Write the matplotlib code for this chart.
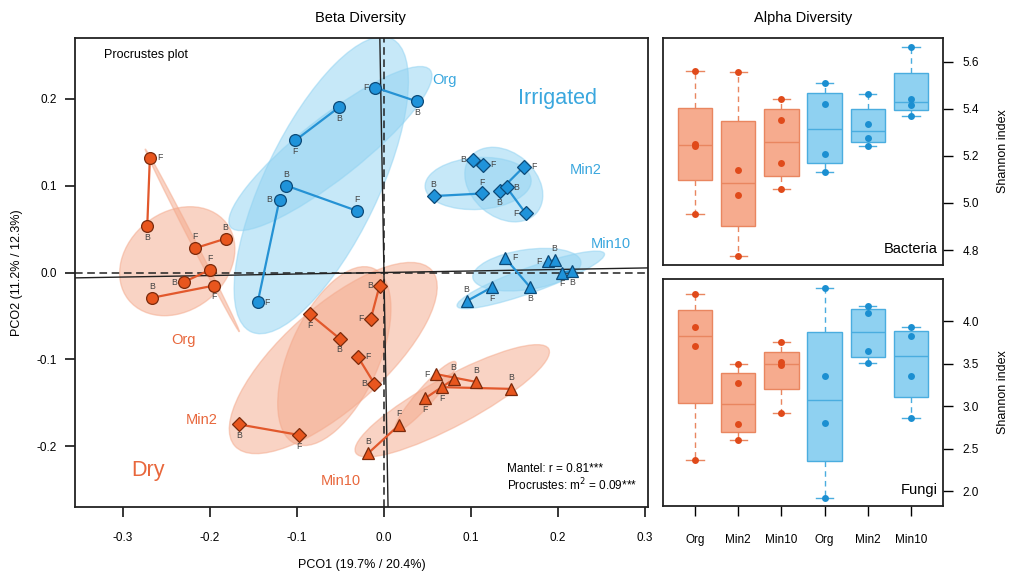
import numpy as np
import matplotlib
matplotlib.use("Agg")
import matplotlib.pyplot as plt
from matplotlib.patches import Ellipse

plt.rcParams['font.family'] = ['Liberation Sans', 'DejaVu Sans']

# ---- Procrustes data: fungal (F) and bacterial (B) ordination scores, paired by sample
dry_org_F = [(-0.269, 0.132), (-0.217, 0.028), (-0.200, 0.003), (-0.195, -0.015)]
dry_org_B = [(-0.272, 0.053), (-0.182, 0.039), (-0.230, -0.011), (-0.266, -0.029)]
dry_min2_F = [(-0.085, -0.048), (-0.015, -0.053), (-0.030, -0.097), (-0.098, -0.187)]
dry_min2_B = [(-0.051, -0.076), (-0.005, -0.015), (-0.011, -0.128), (-0.166, -0.175)]
dry_min10_F = [(0.060, -0.117), (0.067, -0.132), (0.047, -0.145), (0.017, -0.176)]
dry_min10_B = [(0.106, -0.126), (0.146, -0.134), (0.080, -0.123), (-0.018, -0.208)]
irr_org_F = [(-0.010, 0.213), (-0.102, 0.152), (-0.031, 0.071), (-0.145, -0.034)]
irr_org_B = [(0.038, 0.197), (-0.052, 0.190), (-0.112, 0.100), (-0.120, 0.084)]
irr_min2_F = [(0.114, 0.124), (0.113, 0.091), (0.161, 0.122), (0.163, 0.068)]
irr_min2_B = [(0.102, 0.130), (0.057, 0.088), (0.133, 0.094), (0.141, 0.098)]
irr_min10_F = [(0.139, 0.017), (0.124, -0.017), (0.189, 0.013), (0.205, 0.000)]
irr_min10_B = [(0.168, -0.017), (0.095, -0.033), (0.196, 0.014), (0.216, 0.002)]

# label side for each point (1 below, 2 left, 3 above, 4 right)
dry_org_Fpos, dry_org_Bpos = [4, 3, 3, 1], [1, 3, 2, 3]
dry_min2_Fpos, dry_min2_Bpos = [1, 2, 4, 1], [1, 2, 2, 1]
dry_min10_Fpos, dry_min10_Bpos = [2, 1, 1, 3], [3, 3, 3, 3]
irr_org_Fpos, irr_org_Bpos = [2, 1, 3, 4], [1, 1, 3, 2]
irr_min2_Fpos, irr_min2_Bpos = [4, 3, 4, 2], [2, 3, 1, 4]
irr_min10_Fpos, irr_min10_Bpos = [4, 1, 2, 1], [1, 3, 3, 1]

rot_angle = 1.0  # degrees, procrustes rotation of the target axes
mantel_r = 0.81
procrustes_m2 = 0.09

# ---- Alpha diversity (Shannon index), 4 replicates per treatment
treatments = ['Org', 'Min2', 'Min10', 'Org', 'Min2', 'Min10']
bacteria = [
    [5.559, 5.250, 5.240, 4.955],
    [5.555, 5.140, 5.032, 4.775],
    [5.443, 5.351, 5.168, 5.060],
    [5.510, 5.421, 5.206, 5.130],
    [5.461, 5.334, 5.277, 5.243],
    [5.660, 5.440, 5.417, 5.368],
]
fungi = [
    [4.318, 3.933, 3.710, 2.365],
    [3.500, 3.275, 2.784, 2.600],
    [3.749, 3.514, 3.482, 2.914],
    [4.384, 3.353, 2.796, 1.922],
    [4.176, 4.098, 3.647, 3.502],
    [3.933, 3.824, 3.353, 2.863],
]
water = ['Dry', 'Dry', 'Dry', 'Irrigated', 'Irrigated', 'Irrigated']

# colours
OR_LINE, OR_PT, OR_EDGE, OR_FILL, OR_TXT = '#e2582c', '#e8561e', '#7a2a0c', '#f4a88a', '#e8673c'
BL_LINE, BL_PT, BL_EDGE, BL_FILL, BL_TXT = '#2592d4', '#1f93da', '#0c4a78', '#8fd2f2', '#3aa7de'
BOX_OR_FILL, BOX_OR_EDGE, BOX_OR_PT = '#f6ab8e', '#e98660', '#e04a1a'
BOX_BL_FILL, BOX_BL_EDGE, BOX_BL_PT = '#8fd1f1', '#4aaddf', '#1b8fd1'


def cov_ellipse(ax, pts, fc, ec, k=1.6):
    pts = np.asarray(pts)
    c = pts.mean(axis=0)
    vals, vecs = np.linalg.eigh(np.cov(pts.T))
    ang = np.degrees(np.arctan2(vecs[1, 1], vecs[0, 1]))
    e = Ellipse(c, 2 * k * np.sqrt(vals[1]), 2 * k * np.sqrt(vals[0]), angle=ang,
                facecolor=fc, edgecolor=ec, alpha=0.5, lw=1.0, zorder=1)
    ax.add_patch(e)


def label_pt(ax, x, y, s, pos):
    off = {1: (0, -5), 2: (-5, 0), 3: (0, 5), 4: (5, 0)}[pos]
    ha = {1: 'center', 2: 'right', 3: 'center', 4: 'left'}[pos]
    va = {1: 'top', 2: 'center', 3: 'bottom', 4: 'center'}[pos]
    ax.annotate(s, (x, y), xytext=off, textcoords='offset points', ha=ha, va=va,
                fontsize=6.3, color='#444444', zorder=6)


fig = plt.figure(figsize=(10.11, 5.76), dpi=100)
ax = fig.add_axes([0.0742, 0.1198, 0.5668, 0.8142])

groups = [
    (dry_org_F, dry_org_B, dry_org_Fpos, dry_org_Bpos, 'o', 'dry'),
    (dry_min2_F, dry_min2_B, dry_min2_Fpos, dry_min2_Bpos, 'D', 'dry'),
    (dry_min10_F, dry_min10_B, dry_min10_Fpos, dry_min10_Bpos, '^', 'dry'),
    (irr_org_F, irr_org_B, irr_org_Fpos, irr_org_Bpos, 'o', 'irr'),
    (irr_min2_F, irr_min2_B, irr_min2_Fpos, irr_min2_Bpos, 'D', 'irr'),
    (irr_min10_F, irr_min10_B, irr_min10_Fpos, irr_min10_Bpos, '^', 'irr'),
]

for F, B, fpos, bpos, mk, w in groups:
    fill = OR_FILL if w == 'dry' else BL_FILL
    cov_ellipse(ax, F, fill, fill)
    cov_ellipse(ax, B, fill, fill)

ax.axhline(0, color='#222222', lw=1.1, ls=(0, (5, 3)), zorder=2)
ax.axvline(0, color='#222222', lw=1.1, ls=(0, (5, 3)), zorder=2)
t = np.radians(rot_angle)
ax.axline((0, 0), (np.cos(t), np.sin(t)), color='#222222', lw=1.0, zorder=2)
ax.axline((0, 0), (-np.sin(t), np.cos(t)), color='#222222', lw=1.0, zorder=2)

for F, B, fpos, bpos, mk, w in groups:
    lc = OR_LINE if w == 'dry' else BL_LINE
    pc = OR_PT if w == 'dry' else BL_PT
    ec = OR_EDGE if w == 'dry' else BL_EDGE
    ms = {'o': 8.5, 'D': 7, '^': 9}[mk]
    for (fx, fy), (bx, by), fp, bp in zip(F, B, fpos, bpos):
        ax.plot([fx, bx], [fy, by], color=lc, lw=1.6, zorder=3)
        ax.plot([fx, bx], [fy, by], ls='none', marker=mk, ms=ms, mfc=pc, mec=ec,
                mew=0.9, zorder=4)
        label_pt(ax, fx, fy, 'F', fp)
        label_pt(ax, bx, by, 'B', bp)

ax.set_xlim(-0.355, 0.3035)
ax.set_ylim(-0.27, 0.27)
ax.set_xticks([-0.3, -0.2, -0.1, 0.0, 0.1, 0.2, 0.3])
ax.set_yticks([-0.2, -0.1, 0.0, 0.1, 0.2])
ax.set_xticklabels(['-0.3', '-0.2', '-0.1', '0.0', '0.1', '0.2', '0.3'])
ax.set_yticklabels(['-0.2', '-0.1', '0.0', '0.1', '0.2'])
ax.tick_params(axis='x', direction='out', length=7, width=1.1, labelsize=8.5, pad=11)
ax.tick_params(axis='y', direction='out', length=7, width=1.1, labelsize=8.5, pad=6)
for s in ax.spines.values():
    s.set_linewidth(1.3)
    s.set_color('#222222')
ax.set_xlabel('PCO1 (19.7% / 20.4%)', fontsize=9, labelpad=11)
ax.set_ylabel('PCO2 (11.2% / 12.3%)', fontsize=9, labelpad=10)

ax.text(-0.322, 0.251, 'Procrustes plot', fontsize=9, va='center', ha='left')
ax.text(0.07, 0.222, 'Org', fontsize=10.5, color=BL_TXT, ha='center', va='center')
ax.text(0.199, 0.200, 'Irrigated', fontsize=15.5, color=BL_TXT, ha='center', va='center')
ax.text(0.232, 0.118, 'Min2', fontsize=10.5, color=BL_TXT, ha='center', va='center')
ax.text(0.261, 0.033, 'Min10', fontsize=10.5, color=BL_TXT, ha='center', va='center')
ax.text(-0.230, -0.078, 'Org', fontsize=10.5, color=OR_TXT, ha='center', va='center')
ax.text(-0.210, -0.170, 'Min2', fontsize=10.5, color=OR_TXT, ha='center', va='center')
ax.text(-0.271, -0.228, 'Dry', fontsize=15.5, color=OR_TXT, ha='center', va='center')
ax.text(-0.050, -0.240, 'Min10', fontsize=10.5, color=OR_TXT, ha='center', va='center')
ax.text(0.141, -0.226, 'Mantel: r = %.2f***' % mantel_r, fontsize=8.5, ha='left', va='center')
ax.text(0.141, -0.245, 'Procrustes: m$^2$ = %.2f***' % procrustes_m2, fontsize=8.5,
        ha='left', va='center')

fig.text(0.357, 0.968, 'Beta Diversity', fontsize=10.5, ha='center', va='center')
fig.text(0.794, 0.968, 'Alpha Diversity', fontsize=10.5, ha='center', va='center')


def fivenum(v):
    v = np.sort(np.asarray(v))
    n = len(v)
    n4 = np.floor((n + 3) / 2) / 2
    d = np.array([1, n4, (n + 1) / 2, n + 1 - n4, n]) - 1
    return 0.5 * (v[np.floor(d).astype(int)] + v[np.ceil(d).astype(int)])


def alpha_panel(axp, data, ylim, yticks, ylabels, name):
    pos = np.arange(1, len(data) + 1)
    for p, vals, w in zip(pos, data, water):
        fill = BOX_OR_FILL if w == 'Dry' else BOX_BL_FILL
        edge = BOX_OR_EDGE if w == 'Dry' else BOX_BL_EDGE
        pt = BOX_OR_PT if w == 'Dry' else BOX_BL_PT
        lo, q1, med, q3, hi = fivenum(vals)
        st = [dict(med=med, q1=q1, q3=q3, whislo=lo, whishi=hi, fliers=[])]
        axp.bxp(st, positions=[p], widths=0.8, patch_artist=True, showfliers=False,
                boxprops=dict(facecolor=fill, edgecolor=edge, lw=1.0),
                medianprops=dict(color=edge, lw=1.0),
                whiskerprops=dict(color=edge, lw=1.0, ls=(0, (4, 3))),
                capprops=dict(color=edge, lw=1.0))
        axp.plot(np.full(len(vals), p), vals, 'o', ms=5, color=pt, mec='none', zorder=5)
    axp.set_xlim(0.26, 6.74)
    axp.set_ylim(*ylim)
    axp.set_yticks(yticks)
    axp.set_yticklabels(ylabels)
    axp.yaxis.tick_right()
    axp.yaxis.set_label_position('right')
    axp.set_ylabel('Shannon index', fontsize=9, labelpad=13)
    axp.tick_params(axis='y', direction='out', length=7, width=1.0, labelsize=8.5, pad=7)
    for s in axp.spines.values():
        s.set_linewidth(1.3)
        s.set_color('#222222')
    axp.text(0.98, 0.04, name, transform=axp.transAxes, fontsize=10.5, ha='right', va='bottom')


axb = fig.add_axes([0.6558, 0.540, 0.2769, 0.394])
alpha_panel(axb, bacteria, (4.737, 5.70), [4.8, 5.0, 5.2, 5.4, 5.6],
            ['4.8', '5.0', '5.2', '5.4', '5.6'], 'Bacteria')
axb.set_xticks([])

axf = fig.add_axes([0.6558, 0.1215, 0.2769, 0.3941])
alpha_panel(axf, fungi, (1.824, 4.494), [2.0, 2.5, 3.0, 3.5, 4.0],
            ['2.0', '2.5', '3.0', '3.5', '4.0'], 'Fungi')
axf.set_xticks(np.arange(1, 7))
axf.set_xticklabels(treatments)
axf.tick_params(axis='x', direction='out', length=7, width=1.0, labelsize=8.5, pad=13)

fig.savefig('out.png', dpi=100)
